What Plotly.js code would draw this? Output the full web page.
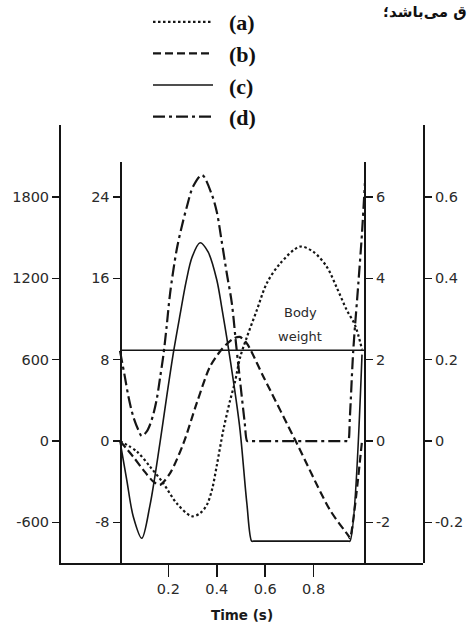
<!DOCTYPE html>
<html>
<head>
<meta charset="utf-8">
<script src="https://cdn.plot.ly/plotly-3.0.1.min.js"></script>
<style>html,body{margin:0;padding:0;background:#fff;}#chart{width:471px;height:623px;}</style>
</head>
<body>
<div id="chart"></div>
<script>
// (a) displacement (m) – dotted
const tA = [0, 0.07, 0.124, 0.179, 0.234, 0.296, 0.33, 0.358, 0.38, 0.4, 0.427, 0.455, 0.475, 0.496, 0.524, 0.565, 0.606, 0.661, 0.744, 0.799, 0.854, 0.895, 0.937, 0.971, 1.0];
const dispA = [0, -0.026, -0.063, -0.104, -0.153, -0.185, -0.178, -0.158, -0.12, -0.06, 0.027, 0.10, 0.145, 0.205, 0.255, 0.321, 0.387, 0.436, 0.478, 0.465, 0.429, 0.378, 0.322, 0.285, 0.225];
// (b) velocity (m/s) – dashed
const tB = [0, 0.055, 0.096, 0.138, 0.165, 0.207, 0.262, 0.317, 0.372, 0.413, 0.44, 0.47, 0.495, 0.524, 0.591, 0.73, 0.868, 0.945, 0.95, 1.0];
const velB = [0, -0.39, -0.71, -1.0, -1.08, -0.79, -0.06, 0.93, 1.83, 2.2, 2.38, 2.52, 2.56, 2.4, 1.6, -0.05, -1.7, -2.34, -2.39, 0];
// (c) acceleration (m/s^2) – solid
const tC = [0, 0.028, 0.055, 0.09, 0.124, 0.165, 0.194, 0.219, 0.248, 0.273, 0.298, 0.331, 0.364, 0.4, 0.42, 0.441, 0.468, 0.496, 0.524, 0.544, 0.552, 0.943, 0.95, 1.0];
const accC = [0, -3.84, -7.45, -9.57, -6.3, -0.2, 4.53, 8.46, 12.4, 15.65, 18.1, 19.5, 18.6, 15.84, 13.2, 10.2, 6.0, 1.08, -6.1, -9.85, -9.85, -9.85, -9.85, 8.5];
// (d) force (N) – dash-dot
const tD = [0, 0.02, 0.035, 0.055, 0.076, 0.09, 0.11, 0.124, 0.138, 0.152, 0.165, 0.179, 0.193, 0.207, 0.234, 0.255, 0.276, 0.303, 0.339, 0.38, 0.4, 0.42, 0.441, 0.462, 0.48, 0.498, 0.515, 0.525, 0.531, 0.938, 0.943, 0.95, 0.964, 0.985, 1.0, 1.012];
const forceD = [665, 475, 327, 179, 81, 37, 69, 120, 200, 310, 460, 630, 850, 1090, 1410, 1582, 1727, 1882, 1963, 1815, 1690, 1476, 1240, 1018, 708, 413, 140, 0, 0, 0, 0, 180, 672, 1166, 1535, 1904];
// body weight (N)
const bwT = [0, 1.012];
const bodyWeight = [670, 670];

const legendNames = ['\u00a0\u00a0(a)', '\u00a0\u00a0(b)', '\u00a0\u00a0(c)', '\u00a0\u00a0(d)'];
const forceTicks = [-600, 0, 600, 1200, 1800];
const accTicks = [-8, 0, 8, 16, 24];
const velTicks = [-2, 0, 2, 4, 6];
const dispTicks = [-0.2, 0, 0.2, 0.4, 0.6];
const timeTicks = [0.2, 0.4, 0.6, 0.8];

const ink = '#151515';
const tickFont = {family: 'DejaVu Sans', size: 14.5, color: '#2a2a2a'};

const traces = [
  {x: tA, y: dispA, yaxis: 'y4', name: legendNames[0], legendgroup: 'a', mode: 'lines',
   line: {color: ink, width: 2.2, dash: '2.5px,2.5px', shape: 'spline', smoothing: 0.9}},
  {x: tB, y: velB, yaxis: 'y3', name: legendNames[1], legendgroup: 'b', mode: 'lines',
   line: {color: ink, width: 2.2, dash: '8px,4px', shape: 'spline', smoothing: 0.8}},
  {x: tC, y: accC, yaxis: 'y2', name: legendNames[2], legendgroup: 'c', mode: 'lines',
   line: {color: ink, width: 1.6, shape: 'spline', smoothing: 0.9}},
  {x: tD, y: forceD, yaxis: 'y', name: legendNames[3], legendgroup: 'd', mode: 'lines',
   line: {color: ink, width: 2.2, dash: '12px,4px,3px,4px', shape: 'spline', smoothing: 0.9}},
  {x: bwT, y: bodyWeight, yaxis: 'y', mode: 'lines', showlegend: false,
   line: {color: ink, width: 1.6}}
];

const W = 471, H = 623;
const px = v => v / W;
const py = v => 1 - v / H;

const commonY = {
  showgrid: false, zeroline: false, showline: true, linecolor: ink, linewidth: 2,
  ticks: 'outside', ticklen: 7, tickwidth: 1.5, tickcolor: ink,
  tickfont: tickFont, tickmode: 'array', fixedrange: true
};
const fmt = v => v < 0 ? '-' + Math.abs(v) : String(v);

const layout = {
  width: W, height: H,
  margin: {l: 0, r: 0, t: 0, b: 0},
  paper_bgcolor: '#fff', plot_bgcolor: 'rgba(0,0,0,0)',
  showlegend: true,
  legend: {
    x: px(148), y: py(1), xanchor: 'left', yanchor: 'top',
    bgcolor: 'rgba(0,0,0,0)', borderwidth: 0,
    font: {family: 'Liberation Serif', size: 22, color: '#111', weight: 'bold'},
    tracegroupgap: 6, itemwidth: 60, traceorder: 'normal'
  },
  xaxis: {
    domain: [px(61), px(423)], range: [-0.2438, 1.252], anchor: 'y',
    showgrid: false, zeroline: false, showline: true, linecolor: ink, linewidth: 2,
    ticks: 'outside', ticklen: 12, tickwidth: 1.5, tickcolor: ink,
    tickmode: 'array', tickvals: timeTicks, ticktext: timeTicks.map(String),
    tickfont: tickFont,
    title: {text: 'Time (s)', standoff: 14, font: {family: 'DejaVu Sans', size: 13.5, color: '#1a1a1a', weight: 'bold'}}
  },
  yaxis: Object.assign({}, commonY, {
    domain: [py(563), py(125)], range: [-900, 2332], anchor: 'x', side: 'left',
    tickvals: forceTicks, ticktext: forceTicks.map(fmt)
  }),
  yaxis2: Object.assign({}, commonY, {
    domain: [py(563), py(162)], range: [-12, 27.45], anchor: 'free', position: px(120.5), side: 'left',
    tickvals: accTicks, ticktext: accTicks.map(fmt)
  }),
  yaxis3: Object.assign({}, commonY, {
    domain: [py(563), py(162)], range: [-3, 6.86], anchor: 'free', position: px(365), side: 'right',
    tickvals: velTicks, ticktext: velTicks.map(fmt)
  }),
  yaxis4: Object.assign({}, commonY, {
    domain: [py(563), py(125)], range: [-0.3, 0.777], anchor: 'x', side: 'right',
    tickvals: dispTicks, ticktext: dispTicks.map(fmt)
  }),
  annotations: [
    {xref: 'x', yref: 'y', x: 0.744, y: 948, text: 'Body', showarrow: false,
     font: {family: 'DejaVu Sans', size: 13, color: '#2a2a2a'}},
    {xref: 'x', yref: 'y', x: 0.744, y: 775, text: 'weight', showarrow: false,
     font: {family: 'DejaVu Sans', size: 13, color: '#2a2a2a'}},
    {xref: 'paper', yref: 'paper', x: px(469), y: py(1), xanchor: 'right', yanchor: 'top',
     text: 'ق می‌باشد؛', showarrow: false,
     font: {family: 'DejaVu Sans', size: 15, color: '#111', weight: 'bold'}}
  ]
};

Plotly.newPlot('chart', traces, layout, {staticPlot: true, displayModeBar: false});
</script>
</body>
</html>
